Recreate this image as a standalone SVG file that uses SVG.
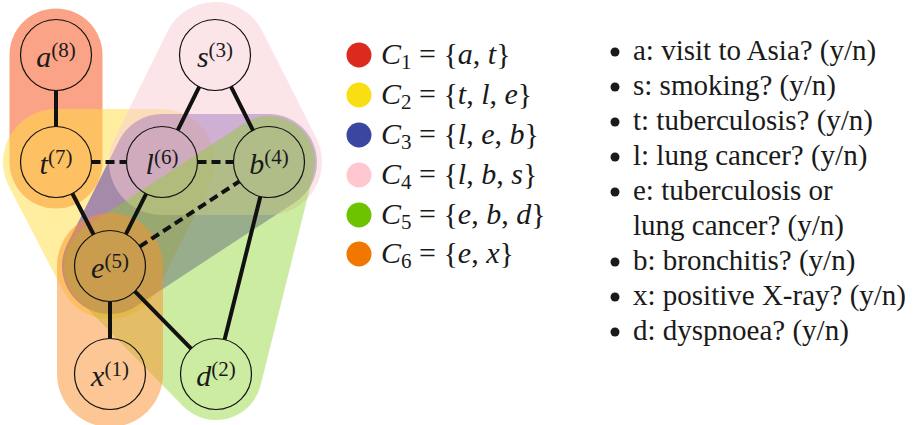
<svg xmlns="http://www.w3.org/2000/svg" width="917" height="425" viewBox="0 0 917 425">
<defs>
<style>
.hull{opacity:0.5;stroke-linejoin:round;stroke-linecap:round}
.node circle{fill:none;stroke:#111;stroke-width:1.2}
.it{font-style:italic}
.e{stroke:#111;stroke-width:4;fill:none}
.dash{stroke-dasharray:9 5}
text{font-family:"Liberation Serif", "DejaVu Serif", serif}
</style>
</defs>
<rect width="917" height="425" fill="#fff"/>
<g id="hulls">
<line id="C1" class="hull" x1="56" y1="55" x2="56" y2="162" stroke="#f94a10" stroke-width="93"/>
<polygon id="C2" class="hull" points="56,162 162,162 110,266" fill="#ffdf41" stroke="#ffdf41" stroke-width="106"/>
<polygon id="C3" class="hull" points="162,162 269,162 110,266" fill="#5028b4" stroke="#5028b4" stroke-width="96"/>
<polygon id="C4" class="hull" points="162,162 215,55 269,162" fill="#fbcdd3" stroke="#fbcdd3" stroke-width="106"/>
<polygon id="C5" class="hull" points="110,266 269,162 216,374" fill="#87d223" stroke="#87d223" stroke-width="92" style="opacity:0.42"/>
<line id="C6" class="hull" x1="110" y1="266" x2="110" y2="374" stroke="#fb912d" stroke-width="106"/>
</g>
<g id="connectors">
<line class="e" x1="56" y1="90.5" x2="56" y2="126.5"/>
<line class="e" x1="72.4" y1="193.5" x2="93.6" y2="234.5"/>
<line class="e" x1="199.2" y1="86.8" x2="177.8" y2="130.2"/>
<line class="e" x1="231" y1="86.7" x2="253" y2="130.3"/>
<line class="e" x1="146.1" y1="193.8" x2="125.9" y2="234.2"/>
<line class="e" x1="260.4" y1="196.4" x2="224.6" y2="339.6"/>
<line class="e" x1="110" y1="301.5" x2="110" y2="338.5"/>
<line class="e" x1="134.9" y1="291.3" x2="191.1" y2="348.7"/>
<line class="e dash" x1="91.5" y1="162" x2="126.5" y2="162"/>
<line class="e dash" x1="197.5" y1="162" x2="233.5" y2="162"/>
<line class="e dash" x1="139.7" y1="246.6" x2="239.3" y2="181.4"/>
</g>
<g font-size="30" fill="#1a1a1a">
<g id="node-a" class="node"><circle cx="56" cy="55" r="35.5"/><text x="56" y="66.5" text-anchor="middle"><tspan class="it">a</tspan><tspan font-size="21" dy="-10">(8)</tspan></text></g>
<g id="node-s" class="node"><circle cx="215" cy="55" r="35.5"/><text x="215" y="66.5" text-anchor="middle"><tspan class="it">s</tspan><tspan font-size="21" dy="-10">(3)</tspan></text></g>
<g id="node-t" class="node"><circle cx="56" cy="162" r="35.5"/><text x="56" y="173.5" text-anchor="middle"><tspan class="it">t</tspan><tspan font-size="21" dy="-10">(7)</tspan></text></g>
<g id="node-l" class="node"><circle cx="162" cy="162" r="35.5"/><text x="162" y="173.5" text-anchor="middle"><tspan class="it">l</tspan><tspan font-size="21" dy="-10">(6)</tspan></text></g>
<g id="node-b" class="node"><circle cx="269" cy="162" r="35.5"/><text x="269" y="173.5" text-anchor="middle"><tspan class="it">b</tspan><tspan font-size="21" dy="-10">(4)</tspan></text></g>
<g id="node-e" class="node"><circle cx="110" cy="266" r="35.5"/><text x="110" y="277.5" text-anchor="middle"><tspan class="it">e</tspan><tspan font-size="21" dy="-10">(5)</tspan></text></g>
<g id="node-x" class="node"><circle cx="110" cy="374" r="35.5"/><text x="110" y="385.5" text-anchor="middle"><tspan class="it">x</tspan><tspan font-size="21" dy="-10">(1)</tspan></text></g>
<g id="node-d" class="node"><circle cx="216" cy="374" r="35.5"/><text x="216" y="385.5" text-anchor="middle"><tspan class="it">d</tspan><tspan font-size="21" dy="-10">(2)</tspan></text></g>
<g id="legend">
<circle cx="359" cy="55" r="12.5" fill="#dc2a1f"/>
<circle cx="359" cy="95" r="12.5" fill="#fade14"/>
<circle cx="359" cy="135" r="12.5" fill="#3a47a0"/>
<circle cx="359" cy="175" r="12.5" fill="#ffc8d0"/>
<circle cx="359" cy="215" r="12.5" fill="#6ec300"/>
<circle cx="359" cy="254" r="12.5" fill="#f07800"/>
<text x="381" y="64"><tspan class="it">C</tspan><tspan font-size="21" dy="5">1</tspan><tspan dy="-5"> = {</tspan><tspan class="it">a</tspan>, <tspan class="it">t</tspan>}</text>
<text x="381" y="104"><tspan class="it">C</tspan><tspan font-size="21" dy="5">2</tspan><tspan dy="-5"> = {</tspan><tspan class="it">t</tspan>, <tspan class="it">l</tspan>, <tspan class="it">e</tspan>}</text>
<text x="381" y="144"><tspan class="it">C</tspan><tspan font-size="21" dy="5">3</tspan><tspan dy="-5"> = {</tspan><tspan class="it">l</tspan>, <tspan class="it">e</tspan>, <tspan class="it">b</tspan>}</text>
<text x="381" y="184"><tspan class="it">C</tspan><tspan font-size="21" dy="5">4</tspan><tspan dy="-5"> = {</tspan><tspan class="it">l</tspan>, <tspan class="it">b</tspan>, <tspan class="it">s</tspan>}</text>
<text x="381" y="224"><tspan class="it">C</tspan><tspan font-size="21" dy="5">5</tspan><tspan dy="-5"> = {</tspan><tspan class="it">e</tspan>, <tspan class="it">b</tspan>, <tspan class="it">d</tspan>}</text>
<text x="381" y="263"><tspan class="it">C</tspan><tspan font-size="21" dy="5">6</tspan><tspan dy="-5"> = {</tspan><tspan class="it">e</tspan>, <tspan class="it">x</tspan>}</text>
</g>
<g id="variables" font-size="29">
<circle cx="615" cy="52" r="4.5"/>
<circle cx="615" cy="87" r="4.5"/>
<circle cx="615" cy="122" r="4.5"/>
<circle cx="615" cy="157" r="4.5"/>
<circle cx="615" cy="192" r="4.5"/>
<circle cx="615" cy="262" r="4.5"/>
<circle cx="615" cy="297" r="4.5"/>
<circle cx="615" cy="332" r="4.5"/>
<text x="633" y="60">a: visit to Asia? (y/n)</text>
<text x="633" y="95">s: smoking? (y/n)</text>
<text x="633" y="130">t: tuberculosis? (y/n)</text>
<text x="633" y="165">l: lung cancer? (y/n)</text>
<text x="633" y="200">e: tuberculosis or</text>
<text x="633" y="235">lung cancer? (y/n)</text>
<text x="633" y="270">b: bronchitis? (y/n)</text>
<text x="633" y="305">x: positive X-ray? (y/n)</text>
<text x="633" y="340">d: dyspnoea? (y/n)</text>
</g>
</g>
</svg>
